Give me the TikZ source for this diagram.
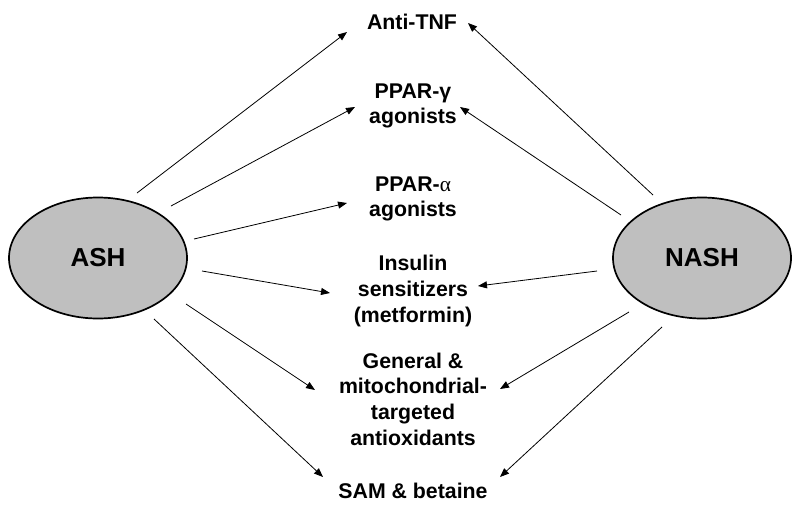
\documentclass[tikz,border=0pt]{standalone}
\usepackage{fontspec}
\setmainfont{Liberation Sans}
\newfontfamily\greekserif{Liberation Serif}
\usetikzlibrary{arrows.meta,shapes.geometric}
\begin{document}
\begin{tikzpicture}[x=1pt,y=-1pt,
  disease/.style={ellipse,draw=black,line width=1.7pt,fill=black!25,minimum width=178pt,minimum height=121pt,inner sep=0pt,font=\fontsize{26}{30}\selectfont\bfseries},
  drug/.style={align=center,font=\fontsize{21.3}{25.6}\selectfont\bfseries,inner sep=0pt},
  arr/.style={line width=0.8pt,-{Triangle[length=9pt,width=7pt]}}]
\useasboundingbox (0,0) rectangle (800,509);
\node[disease] (ash) at (98,258) {ASH};
\node[disease] (nash) at (702,258) {NASH};
\node[drug] (tnf) at (412,22) {Anti-TNF};
\node[drug] (pparg) at (413,106) {PPAR-γ\\agonists};
\node[drug] (ppara) at (413,199) {PPAR-{\greekserif\mdseries α}\\agonists};
\node[drug] (ins) at (413,291) {Insulin\\sensitizers\\(metformin)};
\node[drug] (anti) at (413,399) {General \&\\mitochondrial-\\targeted\\antioxidants};
\node[drug] (sam) at (413,491) {SAM \& betaine};
% connector end points
\coordinate (a1s) at (137,193); \coordinate (a1e) at (347,32);
\coordinate (a2s) at (171,206); \coordinate (a2e) at (355,107);
\coordinate (a3s) at (194,239); \coordinate (a3e) at (347,203);
\coordinate (a4s) at (202,271); \coordinate (a4e) at (330,293);
\coordinate (a5s) at (186,304); \coordinate (a5e) at (315,390);
\coordinate (a6s) at (154,319); \coordinate (a6e) at (323,477);
\coordinate (n1s) at (653,195); \coordinate (n1e) at (468,23);
\coordinate (n2s) at (621,215); \coordinate (n2e) at (460,107);
\coordinate (n3s) at (597,271); \coordinate (n3e) at (478,286);
\coordinate (n4s) at (629,312); \coordinate (n4e) at (500,389);
\coordinate (n5s) at (662,327); \coordinate (n5e) at (500,477);
\draw[arr] (a1s) -- (a1e);
\draw[arr] (a2s) -- (a2e);
\draw[arr] (a3s) -- (a3e);
\draw[arr] (a4s) -- (a4e);
\draw[arr] (a5s) -- (a5e);
\draw[arr] (a6s) -- (a6e);
\draw[arr] (n1s) -- (n1e);
\draw[arr] (n2s) -- (n2e);
\draw[arr] (n3s) -- (n3e);
\draw[arr] (n4s) -- (n4e);
\draw[arr] (n5s) -- (n5e);
\end{tikzpicture}
\end{document}
